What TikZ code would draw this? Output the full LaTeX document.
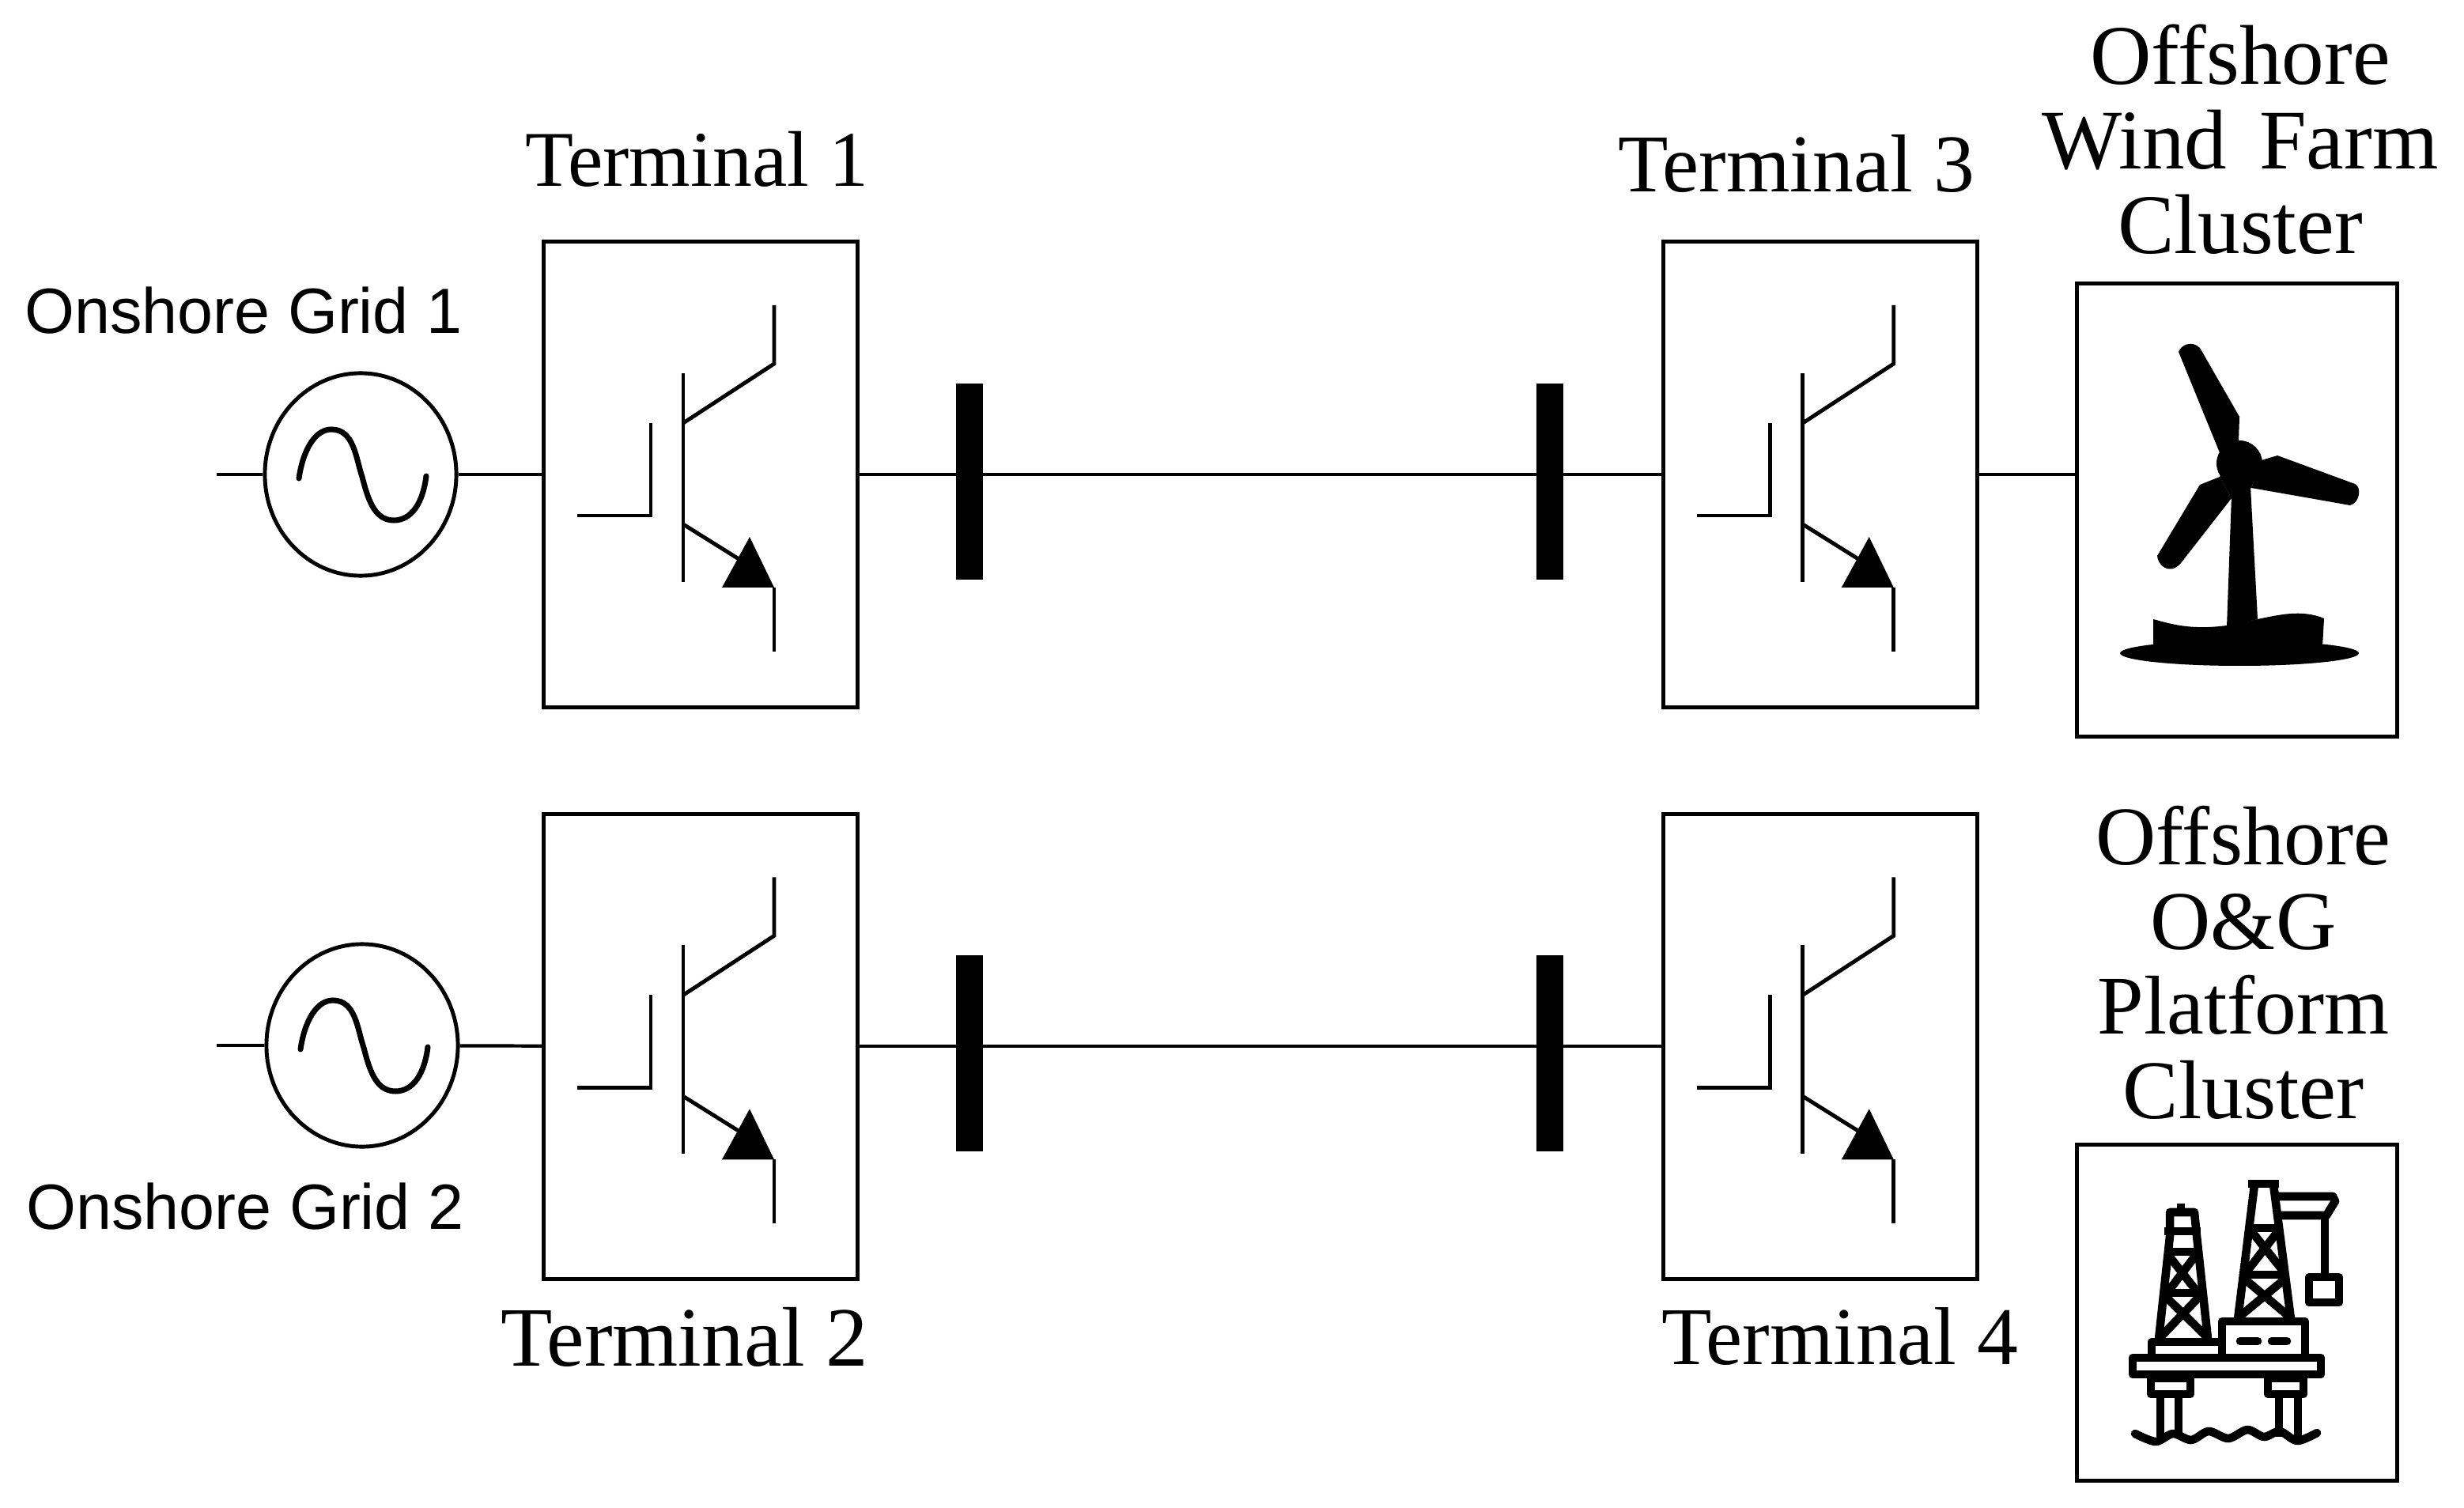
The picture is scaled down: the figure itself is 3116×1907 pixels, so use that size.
\documentclass[tikz,border=0pt]{standalone}
\usepackage{fontspec}
\setmainfont{Liberation Serif}
\setsansfont{Liberation Sans}
\usepackage{tikz}
\usetikzlibrary{shapes.geometric, positioning}

\tikzset{
    igbt/.pic={
        \draw[line width=1.4pt] (-22,-128) -- (-22,136);
        \draw[line width=1.4pt] (-22,-65) -- (93,-140) -- (93,-214);
        \draw[line width=1.4pt] (-156,52) -- (-63,52) -- (-63,-65);
        \draw[line width=1.4pt] (-22,63) -- (50,108);
        \fill (62,79) -- (93,143) -- (27,143) -- cycle;
        \draw[line width=1.4pt] (93,143) -- (93,224);
    },
    sinewave/.pic={
        \draw[line width=2pt, line cap=round] (-78,5) .. controls (-73,-30) and (-58,-57) .. (-37,-57)
            .. controls (-8,-57) and (-6,-20) .. (2,3)
            .. controls (9,30) and (17,58) .. (42,58)
            .. controls (65,58) and (79,35) .. (83,2);
    },
}

\begin{document}
\begin{tikzpicture}[x=0.01cm, y=-0.01cm,
    terminal/.style={rectangle, draw, line width=1.4pt, minimum width=3.97cm, minimum height=5.88cm, inner sep=0pt},
    sitebox/.style={rectangle, draw, line width=1.4pt, minimum width=4.05cm, inner sep=0pt},
    busbar/.style={rectangle, fill=black, minimum width=0.34cm, minimum height=2.48cm, inner sep=0pt, yshift=-0.09cm},
    source/.style={ellipse, draw, line width=1.4pt, minimum width=2.42cm, minimum height=2.56cm, inner sep=0pt},
    termlabel/.style={font=\fontsize{29.5}{30}\selectfont, inner sep=0pt},
    sitelabel/.style={font=\fontsize{30}{30.4}\selectfont, align=center, inner sep=0pt},
    gridlabel/.style={font=\sffamily\fontsize{23}{26}\selectfont, inner sep=0pt},
    wire/.style={line width=1.2pt},
    icon/.style={line width=3pt, line join=round},
]
    \useasboundingbox (0,0) rectangle (3116,1907);

    \node[terminal] (t1) at (886,600) {};
    \node[terminal, below=1.30cm of t1] (t2) {};
    \node[terminal, right=10.13cm of t1] (t3) {};
    \node[terminal, right=10.13cm of t2] (t4) {};

    \node[source] (gen1) at (456,600) {};
    \node[source] (gen2) at (458,1322) {};
    \coordinate (end1) at (274,600);
    \coordinate (end2) at (274,1322);

    \node[busbar, right=1.21cm of t1] (bus1) {};
    \node[busbar, right=1.21cm of t2] (bus2) {};
    \node[busbar, left=1.23cm of t3] (bus3) {};
    \node[busbar, left=1.23cm of t4] (bus4) {};

    \node[sitebox, minimum height=5.72cm, right=1.21cm of t3, yshift=-0.45cm] (farm) {};
    \node[sitebox, minimum height=4.25cm, below=5.11cm of farm] (rig) {};

    \node[termlabel, above=0.66cm of t1, xshift=-0.05cm, font=\fontsize{28.4}{30}\selectfont] (lab1) {Terminal 1};
    \node[termlabel, above=0.59cm of t3, xshift=-0.3cm] (lab3) {Terminal 3};
    \node[termlabel, below=0.33cm of t2, xshift=-0.2cm, font=\fontsize{30.4}{30}\selectfont] (lab2) {Terminal 2};
    \node[termlabel, below=0.33cm of t4, xshift=0.25cm] (lab4) {Terminal 4};
    \node[gridlabel] (lab5) at (308,393) {Onshore Grid 1};
    \node[gridlabel] (lab6) at (310,1526) {Onshore Grid 2};
    \node[sitelabel, above=0.34cm of farm, xshift=0.04cm, font=\fontsize{30.5}{30.4}\selectfont] (lab7) {Offshore\\Wind\hspace{0.14cm} Farm\\Cluster};
    \node[sitelabel, above=0.29cm of rig, xshift=0.08cm] (lab8) {Offshore\\O\&G\\Platform\\Cluster};

    \pic at (t1) {igbt};
    \pic at (t2) {igbt};
    \pic at (t3) {igbt};
    \pic at (t4) {igbt};
    \pic at (gen1) {sinewave};
    \pic at (gen2) {sinewave};

    \draw[wire] (end1) -- (gen1);
    \draw[wire] (gen1) -- (t1);
    \draw[wire] (t1) -- (t3);
    \draw[wire] (end2) -- (gen2);
    \draw[wire] (gen2) -- (t2);
    \draw[wire] (t2) -- (t4);
    \draw[wire] (t3.east) -- (t3.east -| farm.west);

    % wind turbine
    \fill (2755,445) .. controls (2758,436) and (2772,430) .. (2782,440) -- (2832,527) -- (2831,557) -- (2808,575) -- cycle;
    \fill (2832,586) circle (29);
    \fill (2807,603) -- (2822,630) -- (2847,617) -- (2860,582) -- (2833,560) -- cycle;
    \fill (2860,582) -- (2880,576) -- (2978,612) .. controls (2987,616) and (2984,636) .. (2972,639) -- (2847,617) -- cycle;
    \fill (2807,603) -- (2782,613) -- (2728,703) .. controls (2728,712) and (2742,730) .. (2758,712) -- (2822,630) -- cycle;
    \fill (2822,627) -- (2816,792) -- (2855,783) -- (2846,616) -- cycle;
    \fill (2723,783) .. controls (2745,789) and (2770,797) .. (2816,791) -- (2855,783)
        .. controls (2880,778) and (2910,770) .. (2939,782) -- (2937,817) -- (2723,817) -- cycle;
    \fill (2832,826) ellipse (151 and 16);

    % platform
    \draw[icon] (2697,1717) rectangle (2935,1738);
    \draw[icon] (2720,1743) rectangle (2770,1763);
    \draw[icon] (2868,1743) rectangle (2913,1763);
    \draw[icon] (2732,1765) -- (2732,1817) (2755,1765) -- (2755,1817) (2882,1765) -- (2882,1817) (2906,1765) -- (2906,1817);
    \draw[icon, line cap=round] plot[smooth] coordinates {(2700,1813) (2726,1823) (2748,1813) (2771,1821) (2793,1810) (2818,1819) (2842,1808) (2863,1817) (2883,1810) (2905,1822) (2930,1812)};
    \draw[icon] (2721,1717) -- (2721,1697) -- (2810,1697);
    \draw[icon] (2810,1717) -- (2810,1671) -- (2915,1671) -- (2915,1717);
    \draw[icon, line cap=round] (2833,1696) -- (2855,1696) (2873,1696) -- (2892,1696);
    % left derrick
    \draw[icon] (2730,1693) -- (2744,1563) -- (2744,1533) -- (2775,1533) -- (2778,1563) -- (2792,1693);
    \draw[icon] (2737,1557) -- (2783,1557) (2758,1522) -- (2758,1533);
    \draw[icon] (2742,1583) -- (2778,1583) (2738,1635) -- (2783,1635);
    \draw[icon] (2742,1587) -- (2778,1633) (2777,1587) -- (2742,1633);
    \draw[icon] (2737,1638) -- (2790,1690) (2783,1638) -- (2733,1690);
    % right derrick
    \draw[icon] (2830,1668) -- (2851,1498) (2897,1668) -- (2875,1498);
    \draw[icon] (2843,1497) -- (2882,1497) (2845,1553) -- (2882,1553) (2838,1612) -- (2890,1612);
    \draw[icon] (2848,1558) -- (2887,1607) (2880,1558) -- (2842,1607);
    \draw[icon] (2838,1617) -- (2895,1665) (2890,1617) -- (2832,1665);
    % crane
    \draw[icon] (2880,1513) -- (2950,1513) -- (2953,1519) -- (2942,1537) -- (2882,1537);
    \draw[icon] (2940,1537) -- (2940,1613);
    \draw[icon] (2920,1615) rectangle (2958,1647);
\end{tikzpicture}
\end{document}
